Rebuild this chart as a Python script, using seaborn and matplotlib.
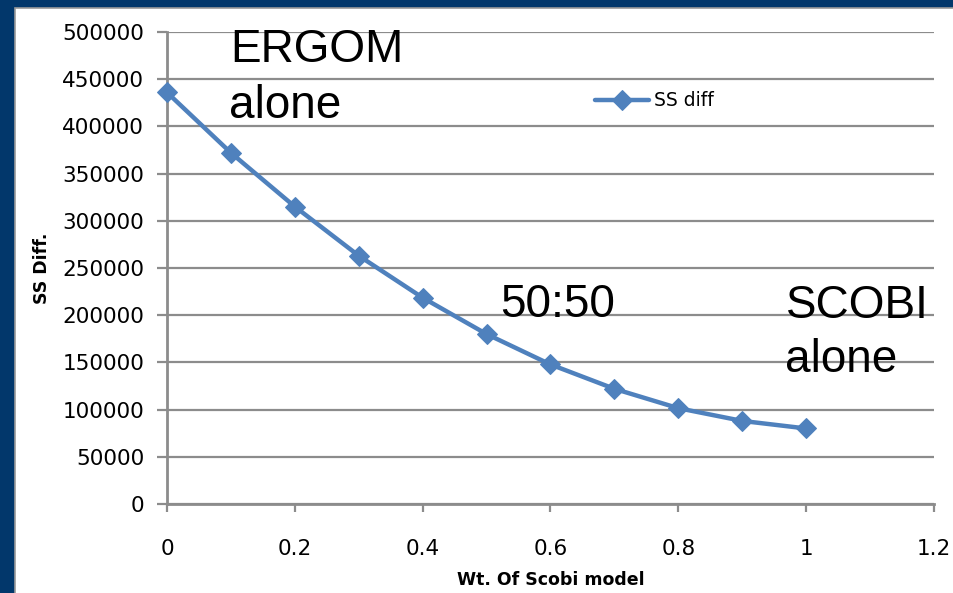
import matplotlib
matplotlib.use("Agg")
import matplotlib.pyplot as plt
import seaborn as sns
import pandas as pd
from matplotlib.patches import Rectangle

weights = [0.0, 0.1, 0.2, 0.3, 0.4, 0.5, 0.6, 0.7, 0.8, 0.9, 1.0]
ss_diff = [436000, 372000, 315000, 263000, 218500, 180000, 147800, 122000, 101500, 88000, 80000]
series_name = "SS diff"
x_ticks = [0, 0.2, 0.4, 0.6, 0.8, 1.0, 1.2]
x_tick_labels = ["0", "0.2", "0.4", "0.6", "0.8", "1", "1.2"]
y_ticks = [0, 50000, 100000, 150000, 200000, 250000, 300000, 350000, 400000, 450000, 500000]
x_label = "Wt. Of Scobi model"
y_label = "SS Diff."

df = pd.DataFrame({"w": weights, "ss": ss_diff, "series": series_name})

sns.set_theme(style="white")
plt.rcParams["font.family"] = ["DejaVu Sans"]
plt.rcParams["text.color"] = "black"
plt.rcParams["axes.labelcolor"] = "black"

W, H = 954, 593
fig = plt.figure(figsize=(W / 100, H / 100), dpi=100, facecolor="#02376B")
# white panel inside navy frame
fig.patches.append(Rectangle((15 / W, -0.01), 1, 1.01 - 8 / H, transform=fig.transFigure,
                             facecolor="white", edgecolor="#9A9A9A", linewidth=1.2, zorder=-5))

L, R, B, T = 167, 934, 504, 32
ax = fig.add_axes([L / W, 1 - B / H, (R - L) / W, (B - T) / H])
ax.set_facecolor("white")
ax.set_zorder(2)

blue = "#4F81BD"
sns.lineplot(data=df, x="w", y="ss", hue="series", palette=[blue], ax=ax,
             linewidth=3.2, marker="D", markersize=10.5, markeredgecolor=blue,
             markerfacecolor=blue, zorder=3, clip_on=False)

ax.set_xlim(0, 1.2)
ax.set_ylim(0, 500000)
ax.set_xticks(x_ticks)
ax.set_xticklabels(x_tick_labels)
ax.set_yticks(y_ticks)
ax.set_yticklabels([str(v) for v in y_ticks])

grid_c = "#8C8C8C"
ax.yaxis.grid(True, color=grid_c, linewidth=1.6)
ax.xaxis.grid(False)
ax.set_axisbelow(True)
for s in ["top", "right"]:
    ax.spines[s].set_visible(False)
for s in ["left", "bottom"]:
    ax.spines[s].set_color(grid_c)
    ax.spines[s].set_linewidth(2)

ax.tick_params(axis="y", which="both", direction="out", length=7.5, width=1.6,
               color=grid_c, labelsize=15.5, pad=9, left=True, labelcolor="black")
ax.tick_params(axis="x", which="both", direction="out", length=6, width=1.6,
               color=grid_c, labelsize=15.5, pad=19, bottom=True, labelcolor="black")

ax.set_xlabel(x_label, fontsize=12.5, fontweight="bold", color="black")
ax.set_ylabel(y_label, fontsize=12.5, fontweight="bold", color="black")
ax.xaxis.set_label_coords(0.5, -(580 - B) / (B - T))
ax.yaxis.set_label_coords(-(L - 42) / (R - L), 0.5)
ax.xaxis.label.set_va("center")
ax.yaxis.label.set_va("center")

leg = ax.legend(loc="center left", bbox_to_anchor=((595 - L) / (R - L), (B - 101) / (B - T)),
                frameon=False, fontsize=13.5, handlelength=2.9, handletextpad=0.25,
                borderaxespad=0, borderpad=0, labelcolor="black")
for h in leg.legend_handles:
    h.set_linewidth(3.2)


def px_to_data(xp, yp):
    return (xp - L) / (R - L) * 1.2, (B - yp) / (B - T) * 500000


big = dict(fontsize=33, family=["Liberation Sans", "DejaVu Sans"], color="black",
           va="baseline", ha="left")
for label, xp, yp in [("ERGOM", 230, 62), ("alone", 229, 118), ("50:50", 500, 317),
                      ("SCOBI", 786, 318), ("alone", 785, 372)]:
    xd, yd = px_to_data(xp, yp)
    ax.text(xd, yd, label, **big)

fig.savefig("out.png", dpi=100, facecolor=fig.get_facecolor())
